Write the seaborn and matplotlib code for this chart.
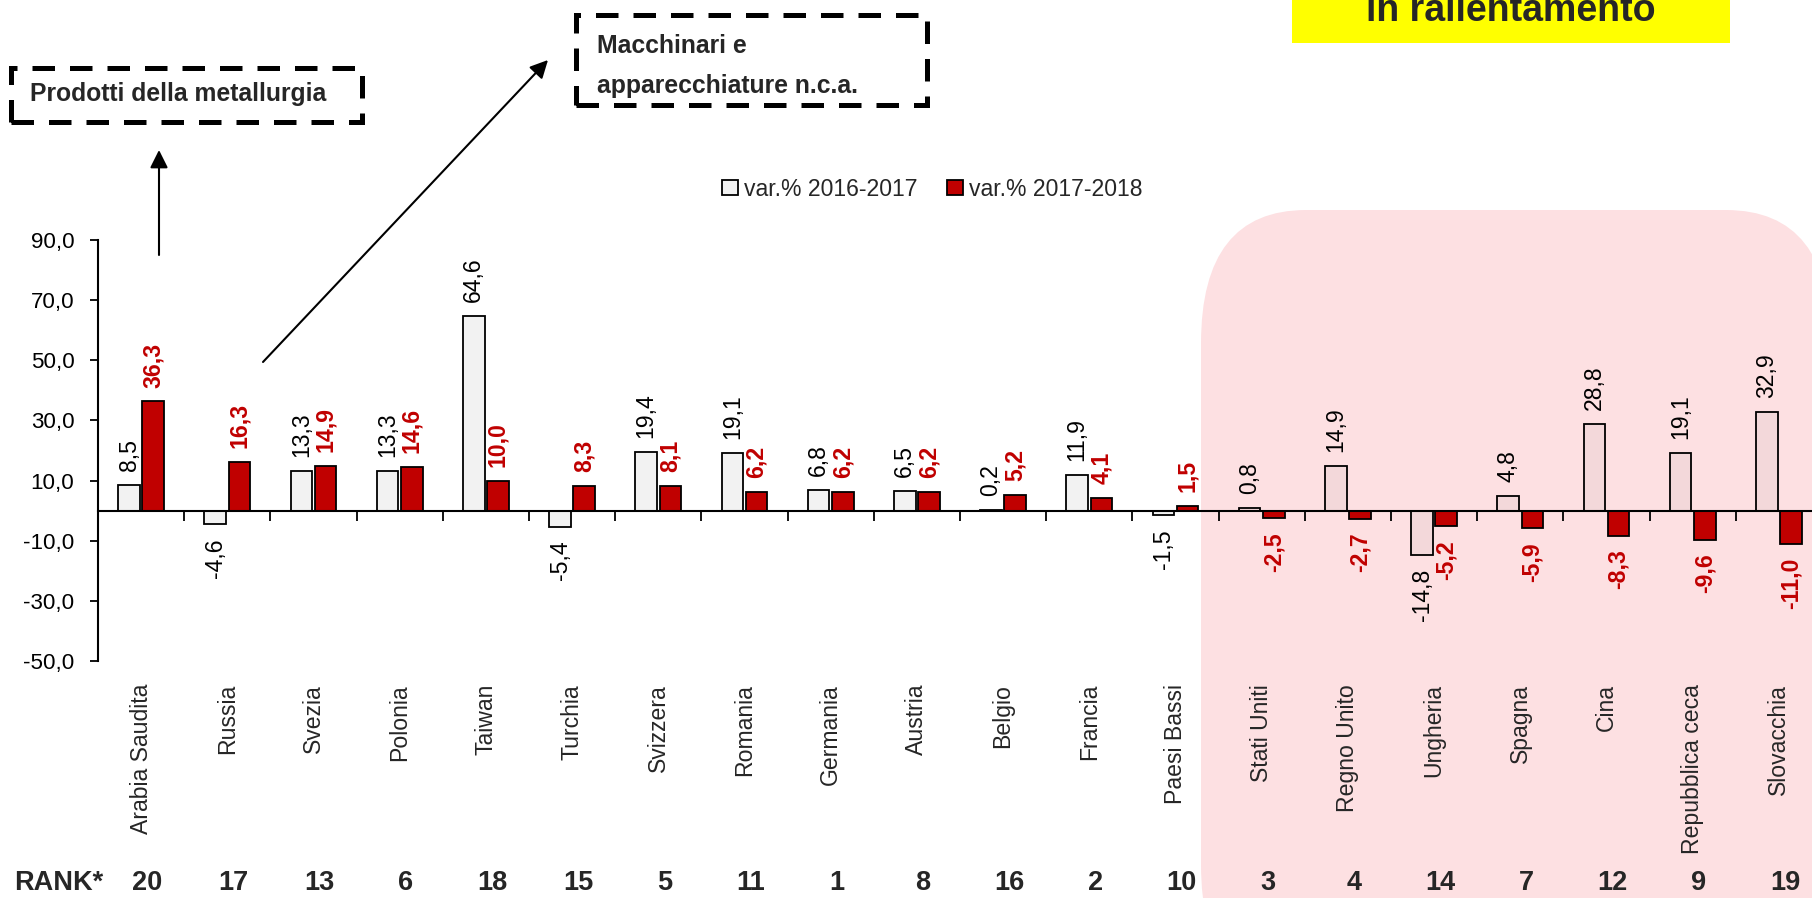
import numpy as np
import pandas as pd
import matplotlib
matplotlib.use("Agg")
import matplotlib.pyplot as plt
from matplotlib import font_manager
from matplotlib.patches import FancyBboxPatch, Rectangle, FancyArrowPatch, Patch
from matplotlib.ticker import FuncFormatter
from matplotlib.transforms import blended_transform_factory
import seaborn as sns

# ------------------------------------------------------
# dati
# ------------------------------------------------------
paesi = ["Arabia Saudita", "Russia", "Svezia", "Polonia", "Taiwan", "Turchia",
         "Svizzera", "Romania", "Germania", "Austria", "Belgio", "Francia",
         "Paesi Bassi", "Stati Uniti", "Regno Unito", "Ungheria", "Spagna",
         "Cina", "Repubblica ceca", "Slovacchia"]
var_2016_2017 = [8.5, -4.6, 13.3, 13.3, 64.6, -5.4, 19.4, 19.1, 6.8, 6.5,
                 0.2, 11.9, -1.5, 0.8, 14.9, -14.8, 4.8, 28.8, 19.1, 32.9]
var_2017_2018 = [36.3, 16.3, 14.9, 14.6, 10.0, 8.3, 8.1, 6.2, 6.2, 6.2,
                 5.2, 4.1, 1.5, -2.5, -2.7, -5.2, -5.9, -8.3, -9.6, -11.0]
rank = [20, 17, 13, 6, 18, 15, 5, 11, 1, 8, 16, 2, 10, 3, 4, 14, 7, 12, 9, 19]
periodi = ["var.% 2016-2017", "var.% 2017-2018"]
y_ticks = [-50, -30, -10, 10, 30, 50, 70, 90]
n_rallentamento = 7  # ultimi paesi nella zona rosa

GRIGIO = "#f2f2f2"
ROSA_BARRA = "#f3d8da"
ROSSO = "#c00000"
ROSA = "#fde0e2"

sns.set_theme(style="white")

# font stretto (tipo Arial Narrow) se c'e', altrimenti Liberation Sans
installati = {f.name for f in font_manager.fontManager.ttflist}
if "Liberation Sans Narrow" in installati:
    plt.rcParams["font.family"] = ["Liberation Sans Narrow", "Liberation Sans", "DejaVu Sans"]
    k = 1.0
else:
    plt.rcParams["font.family"] = ["Liberation Sans", "DejaVu Sans"]
    k = 0.87


def fs(x):
    return x * k


df = pd.DataFrame({
    "paese": paesi * 2,
    "periodo": [periodi[0]] * len(paesi) + [periodi[1]] * len(paesi),
    "valore": var_2016_2017 + var_2017_2018,
})

fig = plt.figure(figsize=(18.12, 8.98), dpi=100)
inch = fig.dpi_scale_trans

# zona rosa (paesi in rallentamento)
zona = FancyBboxPatch((12.01, -1.0), 6.3, 7.88,
                      boxstyle="round,pad=0,rounding_size=1.05",
                      mutation_aspect=1.27, transform=inch,
                      facecolor=ROSA, edgecolor="none", zorder=-5)
fig.add_artist(zona)

# riquadro giallo
fig.add_artist(Rectangle((12.92, 8.55), 4.38, 0.6, transform=inch,
                         facecolor="#ffff00", edgecolor="none", zorder=-4))
fig.text(15.11, 8.77, "in rallentamento", transform=inch, ha="center",
         va="baseline", fontsize=27, fontweight="bold",
         family=["Liberation Sans", "DejaVu Sans"])

# ------------------------------------------------------
# grafico
# ------------------------------------------------------
ax = fig.add_axes([98 / 1812, 237 / 898, 1724 / 1812, 421 / 898])
ax.set_facecolor("none")

sns.barplot(data=df, x="paese", y="valore", hue="periodo",
            palette=[GRIGIO, ROSSO], saturation=1, width=0.56, gap=0.1,
            edgecolor="black", linewidth=1.3, legend=False, ax=ax)

for bar in list(ax.containers[0])[-n_rallentamento:]:
    bar.set_facecolor(ROSA_BARRA)

ax.set_xlim(-0.5, len(paesi) - 0.5)
ax.set_ylim(-50, 90)
ax.set_yticks(y_ticks)
ax.yaxis.set_major_formatter(FuncFormatter(lambda v, p: f"{v:.1f}".replace(".", ",")))
ax.set_xticks(np.arange(0.5, len(paesi) - 0.5, 1))
ax.set_xticklabels([])
ax.set_xlabel("")
ax.set_ylabel("")
ax.grid(False)

ax.spines["bottom"].set_position(("data", 0))
ax.spines["top"].set_visible(False)
ax.spines["right"].set_visible(False)
for s in ["left", "bottom"]:
    ax.spines[s].set_color("black")
    ax.spines[s].set_linewidth(1.5)

ax.tick_params(axis="y", direction="out", length=6, width=1.3, pad=11,
               labelsize=fs(18.5), left=True, colors="black")
ax.tick_params(axis="x", direction="out", length=7, width=1.3,
               bottom=True, labelbottom=False, colors="black")

# etichette dei valori
for cont, valori, col, peso in zip(ax.containers, [var_2016_2017, var_2017_2018],
                                   ["black", ROSSO], ["normal", "bold"]):
    for bar, v in zip(cont, valori):
        xc = bar.get_x() + bar.get_width() / 2
        off = 10 if v >= 0 else -10
        ax.annotate(f"{v:.1f}".replace(".", ","), (xc, v),
                    xytext=(0, off), textcoords="offset points",
                    rotation=90, ha="center", va="bottom" if v >= 0 else "top",
                    fontsize=fs(19), color=col, fontweight=peso)

# nomi dei paesi
for i, p in enumerate(paesi):
    ax.annotate(p, xy=(i, 0), xycoords=("data", "axes fraction"),
                xytext=(0, -16.5), textcoords="offset points", rotation=90,
                ha="center", va="top", fontsize=fs(19))

# riga RANK
tr = blended_transform_factory(ax.transData, fig.transFigure)
for i, r in enumerate(rank):
    ax.text(i + 0.07, 8 / 898, str(r), transform=tr, ha="center",
            va="baseline", fontsize=fs(22.5), fontweight="bold", clip_on=False)
fig.text(14 / 1812, 8 / 898, "RANK*", ha="left", va="baseline",
         fontsize=fs(22.5), fontweight="bold")

# legenda
handles = [Patch(facecolor=c, edgecolor="black", linewidth=1.3, label=l)
           for c, l in zip([GRIGIO, ROSSO], periodi)]
fig.legend(handles=handles, loc="center", bbox_to_anchor=(0.5146, 0.7895),
           ncol=2, frameon=False, fontsize=fs(19), handlelength=0.7,
           handleheight=0.6, handletextpad=0.25, columnspacing=1.3,
           borderpad=0)

# ------------------------------------------------------
# riquadri tratteggiati e frecce
# ------------------------------------------------------
for (x0, y0, w, h) in [(0.11, 7.76, 3.51, 0.54), (5.76, 7.93, 3.51, 0.90)]:
    fig.add_artist(Rectangle((x0, y0), w, h, transform=inch, fill=False,
                             edgecolor="black", linewidth=3.6,
                             linestyle=(0, (4.5, 3))))

fig.text(0.30, 8.04, "Prodotti della metallurgia", transform=inch,
         va="center", ha="left", fontsize=fs(20.5), fontweight="bold")
fig.text(5.97, 8.52, "Macchinari e", transform=inch,
         va="center", ha="left", fontsize=fs(20.5), fontweight="bold")
fig.text(5.97, 8.12, "apparecchiature n.c.a.", transform=inch,
         va="center", ha="left", fontsize=fs(20.5), fontweight="bold")

for a, b in [((1.59, 6.43), (1.59, 7.48)), ((2.63, 5.36), (5.48, 8.38))]:
    fig.add_artist(FancyArrowPatch(a, b, transform=inch, arrowstyle="-|>",
                                   mutation_scale=27, lw=1.5, color="black",
                                   shrinkA=0, shrinkB=0))

fig.savefig("out.png", dpi=100)
plt.close(fig)
